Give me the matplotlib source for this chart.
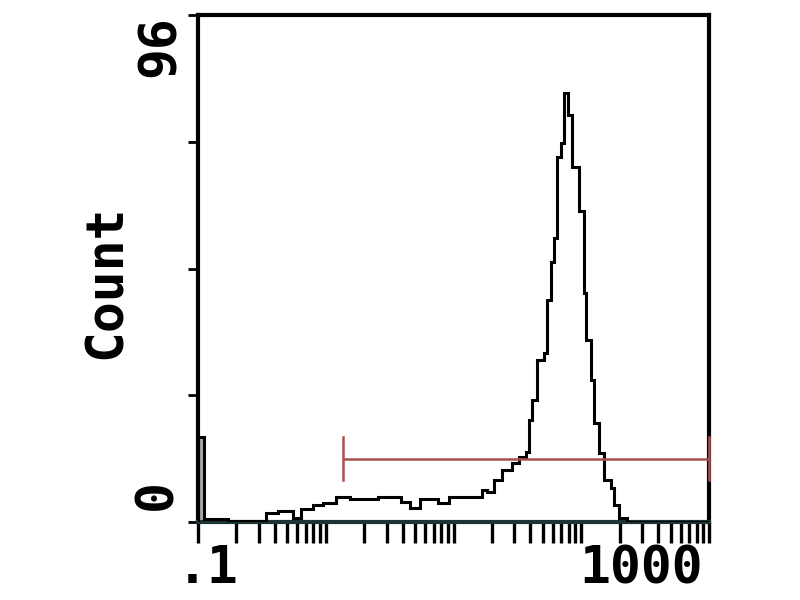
import numpy as np
import matplotlib
matplotlib.use("Agg")
import matplotlib.pyplot as plt
from matplotlib.ticker import LogLocator, NullFormatter, FixedLocator
import matplotlib.transforms as mtransforms

# ---- data ----
bin_edges = [0.1, 0.1115, 0.1718, 0.3415, 0.4241, 0.5559, 0.6425, 0.798, 0.956,
             1.209, 1.556, 2.581, 3.91, 4.6, 5.511, 7.628, 9.137, 16.58, 18.15,
             20.59, 23.79, 28.5, 32.34, 36.69, 38.73, 40.89, 44.77, 50.78, 53.61,
             57.66, 60.86, 64.24, 69.07, 72.91, 78.38, 84.23, 95.6, 104.6, 108.5,
             118.7, 125.3, 137.2, 150.2, 170.4, 179.8, 196.9, 227.5, 1000]
counts = [16.1, 0.5, 0.15, 1.7, 2.1, 0.8, 2.5, 3.2, 3.6, 4.7, 4.4, 4.7, 3.8, 2.7,
          4.4, 3.6, 4.7, 6.1, 5.7, 8.0, 9.8, 11.2, 12.3, 13.3, 19.3, 23.1, 30.7,
          32.0, 42.0, 49.2, 53.8, 69.1, 71.8, 81.2, 77.1, 67.2, 58.9, 43.4, 34.5,
          26.9, 18.7, 13.1, 8.0, 6.4, 3.2, 0.8, 0.0]

gate_start, gate_end = 1.37, 1000
gate_level = 11.9
gate_cap_low, gate_cap_high = 8.0, 16.1

x_min, x_max = 0.1, 1000
y_min, y_max = 0, 96
x_major = [0.1, 1, 10, 100, 1000]
x_major_labels = ['.1', '', '', '', '1000']
y_ticks = [0, 24, 48, 72, 96]
y_tick_labels = ['0', '', '', '', '96']

# ---- figure ----
FONT = 'DejaVu Sans Mono'
FS = 37
fig = plt.figure(figsize=(8, 6), dpi=100)
ax = fig.add_axes([0.2475, 0.13, 0.6388, 0.845])

ax.stairs(counts, bin_edges, color='black', linewidth=2.2, zorder=3)
# first (gray-filled) channel
ax.fill_between(bin_edges[:2], [counts[0], counts[0]], 0, color='#a8a8a8',
                step='post', zorder=2, linewidth=0)

# gate marker
gate_color = '#a85050'
ax.plot([gate_start, gate_end], [gate_level, gate_level], color=gate_color,
        linewidth=1.8, zorder=4, solid_capstyle='butt')
ax.plot([gate_start, gate_start], [gate_cap_low, gate_cap_high], color=gate_color,
        linewidth=1.8, zorder=4)
ax.plot([gate_end, gate_end], [gate_cap_low, gate_cap_high], color=gate_color,
        linewidth=1.8, zorder=4, clip_on=False)

ax.set_xscale('log')
ax.set_xlim(x_min, x_max)
ax.set_ylim(y_min, y_max)

ax.xaxis.set_major_locator(FixedLocator(x_major))
ax.set_xticklabels(x_major_labels)
ax.xaxis.set_minor_locator(LogLocator(base=10, subs=np.arange(2, 10)))
ax.xaxis.set_minor_formatter(NullFormatter())
ax.set_yticks(y_ticks)
ax.set_yticklabels(y_tick_labels)

for s in ax.spines.values():
    s.set_linewidth(3.0)
    s.set_color('black')
ax.spines['bottom'].set_color('#1c3434')

ax.tick_params(axis='x', which='both', direction='out', length=15, width=2.4,
               pad=1, top=False)
ax.tick_params(axis='y', which='both', direction='out', length=7, width=2,
               pad=4, right=False)

for lab in ax.get_xticklabels():
    lab.set_fontfamily(FONT)
    lab.set_fontweight('bold')
    lab.set_fontsize(FS)
xl = ax.get_xticklabels()
xl[0].set_horizontalalignment('center')
xl[0].set_transform(xl[0].get_transform() +
                    mtransforms.ScaledTranslation(10 / 100, 0, fig.dpi_scale_trans))
xl[-1].set_horizontalalignment('right')
xl[-1].set_transform(xl[-1].get_transform() +
                     mtransforms.ScaledTranslation(-6 / 100, 0, fig.dpi_scale_trans))

yl = ax.get_yticklabels()
for lab in yl:
    lab.set_fontfamily(FONT)
    lab.set_fontweight('bold')
    lab.set_fontsize(FS)
    lab.set_rotation(90)
yl[0].set_verticalalignment('bottom')
yl[0].set_transform(yl[0].get_transform() +
                    mtransforms.ScaledTranslation(0, 12 / 100, fig.dpi_scale_trans))
yl[-1].set_verticalalignment('top')
yl[-1].set_transform(yl[-1].get_transform() +
                     mtransforms.ScaledTranslation(3 / 100, 0, fig.dpi_scale_trans))

ax.set_ylabel('Count', fontfamily=FONT, fontweight='bold', fontsize=FS)
ax.yaxis.set_label_coords(-0.178, 0.473)
ax.yaxis.label.set_verticalalignment('center')

fig.savefig('out.png', dpi=100)
